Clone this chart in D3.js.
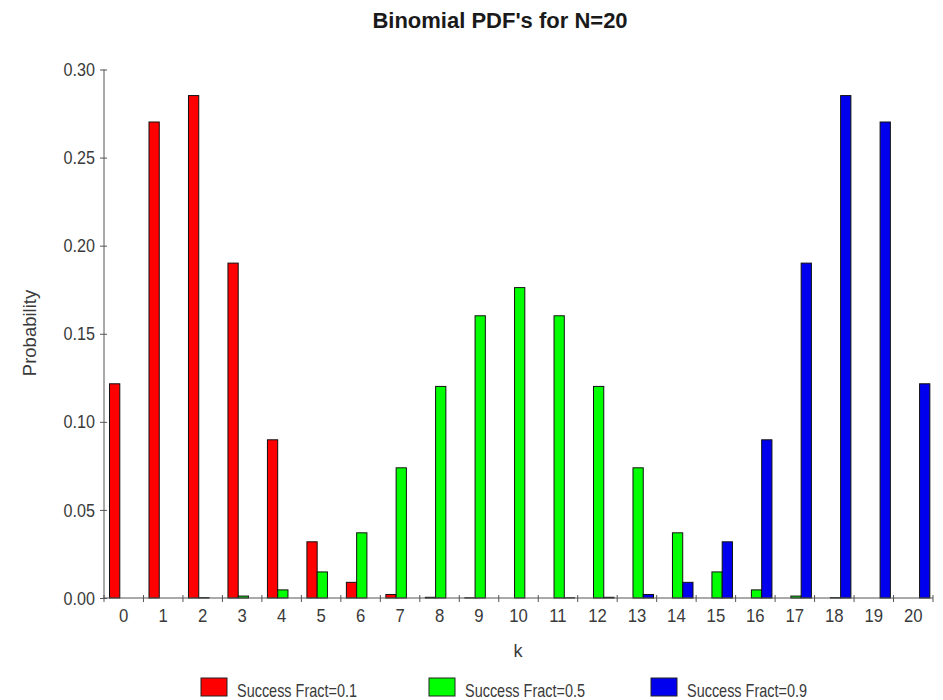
<!DOCTYPE html>
<html>
<head>
<meta charset="utf-8">
<script src="https://cdn.jsdelivr.net/npm/d3@7"></script>
<style>
  html, body { margin: 0; padding: 0; background: #fff; }
  svg { display: block; }
  .lbl { font-family: "Liberation Sans", Arial, sans-serif; }
</style>
</head>
<body>
<svg id="chart" width="943" height="700"></svg>
<script>
// ---- data ----
const categories = ["0","1","2","3","4","5","6","7","8","9","10","11","12","13","14","15","16","17","18","19","20"];
const seriesNames = ["Success Fract=0.1", "Success Fract=0.5", "Success Fract=0.9"];
const valuesP01 = [0.1216, 0.2702, 0.2852, 0.1901, 0.0898, 0.0319, 0.0089, 0.0020, 0.0004, 0.0001, 0, 0, 0, 0, 0, 0, 0, 0, 0, 0, 0];
const valuesP05 = [0.0000, 0.0000, 0.0002, 0.0011, 0.0046, 0.0148, 0.0370, 0.0739, 0.1201, 0.1602, 0.1762, 0.1602, 0.1201, 0.0739, 0.0370, 0.0148, 0.0046, 0.0011, 0.0002, 0.0000, 0.0000];
const valuesP09 = [0, 0, 0, 0, 0, 0, 0, 0, 0, 0, 0, 0.0001, 0.0004, 0.0020, 0.0089, 0.0319, 0.0898, 0.1901, 0.2852, 0.2702, 0.1216];
const yTicks = [0, 0.05, 0.10, 0.15, 0.20, 0.25, 0.30];
const colors = ["#ff0000", "#00ff00", "#0000ee"];

const seriesValues = [valuesP01, valuesP05, valuesP09];
const table = categories.map((c, i) => ({ k: c, vals: seriesValues.map((s, j) => ({ s: seriesNames[j], v: s[i] })) }));

// ---- layout ----
const svg = d3.select("#chart");
const plotLeft = 104, plotRight = 933, plotTop = 69.5, plotBottom = 598;
const textColor = "#3a3a3a";
const axisColor = "#555";

// narrow the glyphs horizontally (reference uses a tall, condensed face)
function condense(sel, ratio) {
  sel.each(function () {
    const w = this.getComputedTextLength();
    d3.select(this).attr("textLength", w * ratio).attr("lengthAdjust", "spacingAndGlyphs");
  });
}

const x0 = d3.scaleBand().domain(categories).range([plotLeft, plotRight]).paddingInner(0).paddingOuter(0);
const x1 = d3.scaleBand().domain(seriesNames).range([x0.bandwidth() * 0.14, x0.bandwidth() * 0.92]).padding(0);
const y = d3.scaleLinear().domain([0, 0.30]).range([plotBottom, plotTop]);

// bars
const g = svg.append("g");
g.selectAll("g.grp").data(table).join("g")
  .attr("class", "grp")
  .attr("transform", d => `translate(${x0(d.k)},0)`)
  .selectAll("rect").data(d => d.vals).join("rect")
  .attr("x", d => x1(d.s))
  .attr("width", x1.bandwidth())
  .attr("y", d => y(d.v))
  .attr("height", d => plotBottom - y(d.v))
  .attr("fill", (d, i) => colors[i])
  .attr("stroke", "#111")
  .attr("stroke-width", 1);

// y axis
const yAxis = d3.axisLeft(y).tickValues(yTicks).tickFormat(d3.format(".2f")).tickSize(4).tickPadding(5);
const ya = svg.append("g").attr("transform", `translate(${plotLeft},0)`).call(yAxis);
ya.select(".domain").attr("stroke", axisColor).attr("d", `M0,${plotTop}V${plotBottom}`);
ya.selectAll(".tick line").attr("stroke", axisColor).attr("x2", -4).attr("x1", 3);
ya.selectAll(".tick text").attr("class", "lbl").attr("fill", textColor).style("font-size", "19px").attr("x", -9);
condense(ya.selectAll(".tick text"), 0.85);

// x axis (ticks at category boundaries)
const xa = svg.append("g").attr("transform", `translate(0,${plotBottom})`);
xa.append("line").attr("x1", plotLeft).attr("x2", plotRight).attr("stroke", axisColor);
const boundaries = categories.map(c => x0(c)).concat([plotRight]);
xa.selectAll("line.tk").data(boundaries).join("line").attr("class", "tk")
  .attr("x1", d => d).attr("x2", d => d).attr("y1", -3).attr("y2", 4).attr("stroke", axisColor);
const xt = xa.selectAll("text").data(categories).join("text")
  .attr("class", "lbl")
  .attr("x", d => x0(d) + x0.bandwidth() / 2)
  .attr("y", 23.5)
  .attr("text-anchor", "middle")
  .attr("fill", textColor)
  .style("font-size", "19px")
  .text(d => d);
condense(xt, 0.88);

// title
svg.append("text").attr("x", 500).attr("y", 27.5).attr("text-anchor", "middle")
  .style("font-family", "'Liberation Sans', Arial, sans-serif").style("font-weight", "bold").style("font-size", "22px")
  .attr("fill", "#1a1a1a").text("Binomial PDF's for N=20");

// axis titles
svg.append("text").attr("class", "lbl").attr("x", 518).attr("y", 657).attr("text-anchor", "middle")
  .attr("fill", textColor).style("font-size", "18px").text("k");
svg.append("text").attr("transform", "translate(36,333) rotate(-90)").attr("text-anchor", "middle")
  .style("font-family", "'Liberation Sans', Arial, sans-serif").style("font-size", "18.5px")
  .attr("fill", textColor).text("Probability");

// legend
const legendX = [201, 429, 651];
const lg = svg.append("g").selectAll("g").data(seriesNames).join("g")
  .attr("transform", (d, i) => `translate(${legendX[i]},678)`);
lg.append("rect").attr("width", 26).attr("height", 18).attr("fill", (d, i) => colors[i]).attr("stroke", "#222");
const lt = lg.append("text").attr("class", "lbl").attr("x", 36).attr("y", 18.5).attr("fill", textColor)
  .style("font-size", "19px").text(d => d);
condense(lt, 0.76);
</script>
</body>
</html>
